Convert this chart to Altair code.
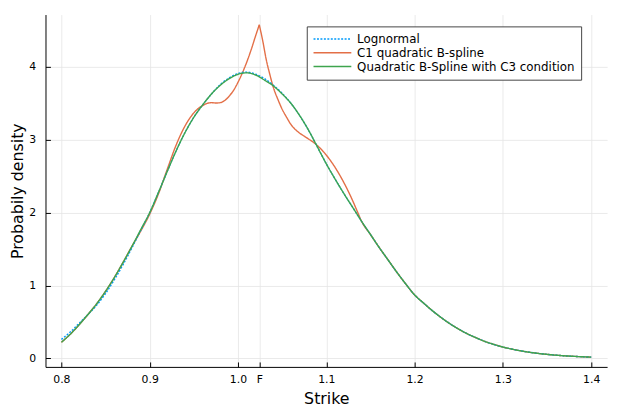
import altair as alt
import pandas as pd

F = 1.0241

series_names = ["Lognormal", "C1 quadratic B-spline", "Quadratic B-Spline with C3 condition"]
series_colors = ["#009AFA", "#E36F47", "#3EA44E"]

# Quadratic B-Spline with C3 condition (green)
strike_c3 = [0.80, 0.81, 0.82, 0.83, 0.84, 0.85, 0.86, 0.87, 0.88, 0.89,
             0.90, 0.91, 0.92, 0.93, 0.94, 0.95, 0.96, 0.97, 0.98, 0.99,
             1.00, 1.01, 1.02, 1.03, 1.04, 1.05, 1.06, 1.07, 1.08, 1.09,
             1.10, 1.11, 1.12, 1.13, 1.14, 1.15, 1.16, 1.17, 1.18, 1.19,
             1.20, 1.21, 1.22, 1.23, 1.24, 1.25, 1.26, 1.27, 1.28, 1.29,
             1.30, 1.31, 1.32, 1.33, 1.34, 1.35, 1.36, 1.37, 1.38, 1.39, 1.40]
density_c3 = [0.22, 0.33, 0.46, 0.60, 0.75, 0.92, 1.11, 1.32, 1.54, 1.77,
              2.00, 2.28, 2.57, 2.85, 3.10, 3.31, 3.48, 3.63, 3.75, 3.84,
              3.90, 3.92, 3.89, 3.82, 3.74, 3.63, 3.50, 3.33, 3.13, 2.90,
              2.67, 2.46, 2.26, 2.07, 1.88, 1.70, 1.52, 1.35, 1.18, 1.02,
              0.87, 0.76, 0.655, 0.56, 0.475, 0.40, 0.335, 0.28, 0.23, 0.19,
              0.155, 0.127, 0.103, 0.083, 0.067, 0.054, 0.043, 0.034, 0.027, 0.021, 0.016]

# Lognormal (blue, dotted)
strike_ln = strike_c3
density_ln = [0.26, 0.36, 0.48, 0.60, 0.73, 0.89, 1.08, 1.29, 1.52, 1.76,
              2.00, 2.28, 2.57, 2.85, 3.10, 3.31, 3.48, 3.63, 3.76, 3.85,
              3.91, 3.93, 3.90, 3.84, 3.75, 3.64, 3.50, 3.33, 3.13, 2.90,
              2.67, 2.46, 2.26, 2.07, 1.88, 1.70, 1.52, 1.35, 1.18, 1.02,
              0.87, 0.76, 0.655, 0.56, 0.475, 0.40, 0.335, 0.28, 0.23, 0.19,
              0.155, 0.127, 0.103, 0.083, 0.067, 0.054, 0.043, 0.034, 0.027, 0.021, 0.016]

# C1 quadratic B-spline (orange): left branch up to F, right branch from F
strike_c1_left = [0.80, 0.81, 0.82, 0.83, 0.84, 0.85, 0.86, 0.87, 0.88, 0.89,
                  0.90, 0.91, 0.92, 0.93, 0.94, 0.95, 0.955, 0.96, 0.965, 0.97,
                  0.975, 0.98, 0.985, 0.99, 0.995, 1.00, 1.005, 1.01, 1.015, 1.02, F]
density_c1_left = [0.22, 0.33, 0.46, 0.60, 0.75, 0.92, 1.11, 1.32, 1.54, 1.75,
                   1.98, 2.26, 2.60, 2.93, 3.19, 3.37, 3.43, 3.47, 3.50, 3.51,
                   3.505, 3.51, 3.54, 3.60, 3.68, 3.79, 3.92, 4.07, 4.24, 4.43, 4.58]
strike_c1_right = [F, 1.028, 1.032, 1.036, 1.04, 1.045, 1.05, 1.055, 1.06, 1.065,
                   1.07, 1.075, 1.08, 1.085, 1.09, 1.095, 1.10, 1.105, 1.11, 1.115,
                   1.12, 1.125, 1.13, 1.135, 1.14, 1.15, 1.16, 1.17, 1.18, 1.19,
                   1.20, 1.21, 1.22, 1.23, 1.24, 1.25, 1.26, 1.27, 1.28, 1.29,
                   1.30, 1.31, 1.32, 1.33, 1.34, 1.35, 1.36, 1.37, 1.38, 1.39, 1.40]
density_c1_right = [4.58, 4.36, 4.10, 3.90, 3.72, 3.56, 3.42, 3.31, 3.21, 3.14,
                    3.09, 3.05, 3.01, 2.97, 2.92, 2.86, 2.79, 2.71, 2.62, 2.52,
                    2.41, 2.29, 2.16, 2.02, 1.88, 1.70, 1.52, 1.35, 1.18, 1.02,
                    0.87, 0.76, 0.655, 0.56, 0.475, 0.40, 0.335, 0.28, 0.23, 0.19,
                    0.155, 0.127, 0.103, 0.083, 0.067, 0.054, 0.043, 0.034, 0.027, 0.021, 0.016]

x_ticks = [0.8, 0.9, 1.0, F, 1.1, 1.2, 1.3, 1.4]
y_ticks = [0, 1, 2, 3, 4]

rows = []
for s, seg, xs, ys in [(series_names[0], "a", strike_ln, density_ln),
                       (series_names[1], "b", strike_c1_left, density_c1_left),
                       (series_names[1], "c", strike_c1_right, density_c1_right),
                       (series_names[2], "d", strike_c3, density_c3)]:
    for i, (xv, yv) in enumerate(zip(xs, ys)):
        rows.append({"series": s, "segment": seg, "strike": xv, "density": yv, "order": i})
df = pd.DataFrame(rows)

FONT = "DejaVu Sans"

x_enc = alt.X("strike:Q",
              scale=alt.Scale(domain=[0.782, 1.418], nice=False, zero=False),
              axis=alt.Axis(values=x_ticks,
                            labelExpr=f"abs(datum.value - {F}) < 0.0001 ? 'F' : format(datum.value, '.1f')",
                            title="Strike", titleFontSize=16, titleFont=FONT, titleFontWeight="normal",
                            titleColor="black", titleX=284.5, titleY=37.5, titleBaseline="alphabetic",
                            titleAlign="center", titleAnchor="middle",
                            labelFont=FONT, labelFontSize=11, labelColor="black",
                            labelPadding=12, labelFlush=False,
                            tickSize={"expr": "-5"}, tickColor="black", tickWidth=1,
                            domainColor="black", domainWidth=1,
                            grid=True, gridColor="#e4e4e4", gridWidth=0.8))
y_enc = alt.Y("density:Q",
              scale=alt.Scale(domain=[-0.118, 4.72], nice=False, zero=False),
              axis=alt.Axis(values=y_ticks, format="d",
                            title="Probabily density", titleFontSize=16, titleFont=FONT,
                            titleFontWeight="normal", titleColor="black",
                            titleX=-28, titleY=178.5, titleAngle=270, titleBaseline="middle",
                            titleAlign="center",
                            labelFont=FONT, labelFontSize=11, labelColor="black",
                            labelPadding=15, labelFlush=False,
                            tickSize={"expr": "-5"}, tickColor="black", tickWidth=1,
                            domainColor="black", domainWidth=1,
                            grid=True, gridColor="#e4e4e4", gridWidth=0.8))

legend_kw = dict(title=None, orient="none", legendX=264.7, legendY=12,
                 symbolType="stroke", symbolSize=1467, symbolStrokeWidth=1.5,
                 labelFont=FONT, labelFontSize=12, labelColor="black", labelLimit=400,
                 labelOffset=5, clipHeight=13.5, rowPadding=0,
                 padding=6, strokeColor="#444444", fillColor="white",
                 cornerRadius=0)
color_enc = alt.Color("series:N",
                      scale=alt.Scale(domain=series_names, range=series_colors),
                      legend=alt.Legend(**legend_kw))
dash_enc = alt.StrokeDash("series:N",
                          scale=alt.Scale(domain=series_names, range=[[2, 1.5], [1, 0], [1, 0]]),
                          legend=alt.Legend(**legend_kw))

base = alt.Chart(df).encode(x=x_enc, y=y_enc, color=color_enc, strokeDash=dash_enc,
                            detail="segment:N", order="order:Q")

orange = base.transform_filter(alt.datum.series == series_names[1]).mark_line(
    interpolate="monotone", strokeWidth=1.4)
others = base.transform_filter(alt.datum.series != series_names[1]).mark_line(
    interpolate="monotone", strokeWidth=1.4)

chart = alt.layer(orange, others).properties(
    width=569, height=357,
    padding={"left": 38, "top": 4, "right": 8, "bottom": 38},
    autosize=alt.AutoSizeParams(type="none"),
    background="white",
).configure_view(stroke=None)

chart.save("out.html", embed_options={"renderer": "svg", "actions": False})
